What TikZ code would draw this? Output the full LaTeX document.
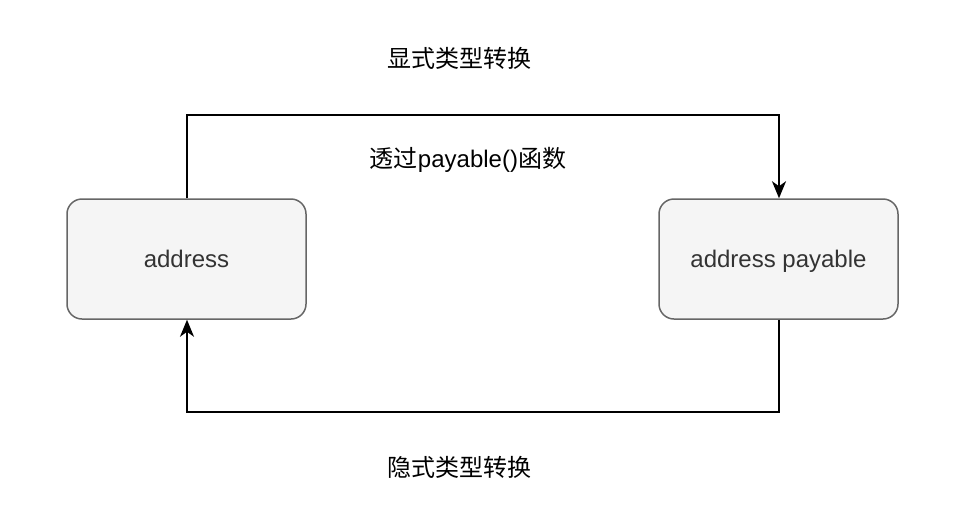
\documentclass[tikz,border=0pt]{standalone}
\usepackage{fontspec}
\setmainfont{Liberation Sans}
\newfontfamily\cjk{Noto Sans CJK SC}
\usetikzlibrary{arrows.meta}
\definecolor{boxfill}{HTML}{F5F5F5}
\definecolor{boxline}{HTML}{666666}
\definecolor{boxtext}{HTML}{333333}
\begin{document}
\begin{tikzpicture}[x=1pt,y=-1pt,
  box/.style={draw=boxline,fill=boxfill,rounded corners=15pt,line width=1.5pt,minimum width=239pt,minimum height=120pt,inner sep=0pt,text=boxtext,font=\fontsize{24}{28}\selectfont,text height=19pt,text depth=3pt},
  lbl/.style={inner sep=0pt,font=\cjk\fontsize{24}{28}\selectfont},
  conn/.style={line width=2pt,-{Stealth[length=17pt,width=14pt,inset=5pt]}}]
\useasboundingbox (0,0) rectangle (960,528);
\node[box] (a) at (186.5,259) {address};
\node[box] (b) at (778.5,259) {address payable};
\node[lbl] (t1) at (459,58) {显式类型转换};
\node[lbl] (t2) at (468,160) {透过{\fontspec{Liberation Sans}payable()}函数};
\node[lbl] (t3) at (459,467) {隐式类型转换};
\coordinate (c1) at (187,115);
\coordinate (c2) at (779,115);
\coordinate (c3) at (779,412);
\coordinate (c4) at (187,412);
\draw[conn] (a.north -| c1) -- (c1) -- (c2) -- (b.north -| c2);
\draw[conn] (b.south -| c3) -- (c3) -- (c4) -- (a.south -| c4);
\end{tikzpicture}
\end{document}
